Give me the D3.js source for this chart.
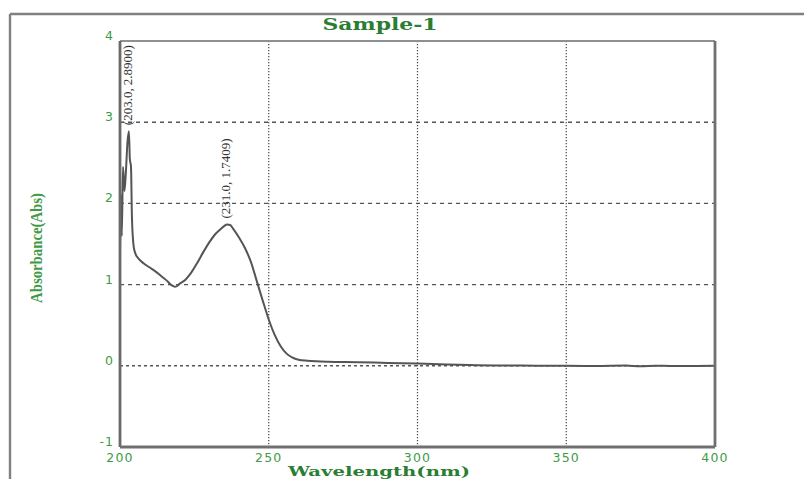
<!DOCTYPE html>
<html>
<head>
<meta charset="utf-8">
<script src="https://cdn.jsdelivr.net/npm/d3@7"></script>
<style>
  html, body { margin: 0; padding: 0; background: #fff; }
  svg { display: block; }
</style>
</head>
<body>
<svg id="chart" width="804" height="479"></svg>
<script>
// ---- data ----
const wavelengths = [200.0, 200.3, 200.6, 201.0, 201.5, 202.0, 202.5, 203.0, 203.3, 203.7, 204.0, 204.5, 205.0, 206.0, 207.0, 208.0, 210.0, 212.0, 214.0, 216.0, 217.0, 218.0, 218.5, 219.0, 220.0, 222.0, 224.0, 226.0, 228.0, 230.0, 232.0, 234.0, 235.0, 236.0, 237.0, 238.0, 240.0, 242.0, 244.0, 246.0, 248.0, 250.0, 252.0, 254.0, 256.0, 258.0, 260.0, 263.0, 266.0, 270.0, 280.0, 290.0, 300.0, 310.0, 320.0, 330.0, 340.0, 350.0, 360.0, 370.0, 375.0, 380.0, 390.0, 400.0];
const absorbance  = [1.38, 2.10, 1.60, 2.45, 2.15, 2.40, 2.75, 2.89, 2.55, 2.45, 1.85, 1.50, 1.40, 1.33, 1.29, 1.26, 1.21, 1.16, 1.10, 1.04, 1.00, 0.98, 0.975, 0.978, 1.01, 1.06, 1.15, 1.27, 1.40, 1.52, 1.62, 1.69, 1.72, 1.74, 1.735, 1.69, 1.58, 1.45, 1.28, 1.04, 0.80, 0.57, 0.38, 0.24, 0.15, 0.10, 0.075, 0.062, 0.055, 0.05, 0.045, 0.035, 0.028, 0.015, 0.008, 0.004, 0.002, 0.0, -0.002, 0.003, -0.005, 0.0, -0.002, 0.0];
const xTicks = [200, 250, 300, 350, 400];
const yTicks = [-1, 0, 1, 2, 3, 4];
const peakWavelengths = [203.0, 236.0];
const peakValues = [2.89, 1.74];
const peakLabels = ["(203.0, 2.8900)", "(231.0, 1.7409)"];
const titleText = "Sample-1";
const xLabel = "Wavelength(nm)";
const yLabel = "Absorbance(Abs)";

// ---- layout ----
const svg = d3.select("#chart");
const L = 120, R = 715, T = 41, B = 447;
const x = d3.scaleLinear().domain([200, 400]).range([L, R]);
const y = d3.scaleLinear().domain([-1, 4]).range([B, T]);
const green = "#3f9a45";
const darkGreen = "#2a7d32";

// outer frame
svg.append("line").attr("x1", 10).attr("x2", 804).attr("y1", 14).attr("y2", 14)
  .attr("stroke", "#808080").attr("stroke-width", 2.4);
svg.append("line").attr("x1", 10).attr("x2", 10).attr("y1", 14).attr("y2", 479)
  .attr("stroke", "#808080").attr("stroke-width", 2.4);

// gridlines
const grid = svg.append("g");
grid.selectAll("line.h").data(yTicks.filter(v => v > -1 && v < 4)).join("line")
  .attr("x1", L).attr("x2", R)
  .attr("y1", d => y(d)).attr("y2", d => y(d))
  .attr("stroke", "#555").attr("stroke-width", 1.4)
  .attr("stroke-dasharray", d => d === 0 ? "3,3" : "4,4");
grid.selectAll("line.v").data(xTicks.filter(v => v > 200 && v < 400)).join("line")
  .attr("x1", d => x(d)).attr("x2", d => x(d))
  .attr("y1", T).attr("y2", B)
  .attr("stroke", "#444").attr("stroke-width", 1.2)
  .attr("stroke-dasharray", "1.2,1.8");

// curve
const pts = wavelengths.map((w, i) => [w, absorbance[i]]);
const line = d3.line().x(d => x(d[0])).y(d => y(d[1])).curve(d3.curveMonotoneX);
svg.append("path").datum(pts).attr("d", line)
  .attr("fill", "none").attr("stroke", "#555").attr("stroke-width", 2)
  .attr("stroke-linejoin", "round");

// plot frame
svg.append("line").attr("x1", L).attr("x2", R).attr("y1", T).attr("y2", T)
  .attr("stroke", "#909090").attr("stroke-width", 1.8);
svg.append("line").attr("x1", R).attr("x2", R).attr("y1", T).attr("y2", B)
  .attr("stroke", "#707070").attr("stroke-width", 2.8);
svg.append("line").attr("x1", L).attr("x2", L).attr("y1", T).attr("y2", B)
  .attr("stroke", "#6a6a6a").attr("stroke-width", 2.8);
svg.append("line").attr("x1", L).attr("x2", R).attr("y1", B).attr("y2", B)
  .attr("stroke", "#707070").attr("stroke-width", 2.8);

// tick labels
svg.append("g").selectAll("text").data(xTicks).join("text")
  .attr("x", d => x(d)).attr("y", 462)
  .attr("text-anchor", "middle")
  .attr("font-family", "DejaVu Sans").attr("font-size", 12.5)
  .attr("letter-spacing", 1.2)
  .attr("fill", green).text(d => d);
svg.append("g").selectAll("text").data(yTicks).join("text")
  .attr("x", 114).attr("y", d => y(d) - 1)
  .attr("text-anchor", "end")
  .attr("font-family", "DejaVu Sans").attr("font-size", 12.5)
  .attr("letter-spacing", 1)
  .attr("fill", green).text(d => d);

// peak labels
svg.append("g").selectAll("text").data(peakLabels).join("text")
  .attr("transform", (d, i) => `translate(${x(peakWavelengths[i]) + 3},${y(peakValues[i]) - 6}) rotate(-90)`)
  .attr("font-family", "Liberation Serif").attr("font-size", 13.5)
  .attr("textLength", 80).attr("lengthAdjust", "spacingAndGlyphs")
  .attr("fill", "#333").text(d => d);

// title
svg.append("text").attr("x", 380).attr("y", 30).attr("text-anchor", "middle")
  .attr("font-family", "DejaVu Serif").attr("font-weight", "bold").attr("font-size", 16)
  .attr("textLength", 115).attr("lengthAdjust", "spacingAndGlyphs")
  .attr("fill", darkGreen).text(titleText);

// x axis label
svg.append("text").attr("x", 379).attr("y", 476).attr("text-anchor", "middle")
  .attr("font-family", "DejaVu Serif").attr("font-weight", "bold").attr("font-size", 13)
  .attr("textLength", 182).attr("lengthAdjust", "spacingAndGlyphs")
  .attr("fill", darkGreen).text(xLabel);

// y axis label
svg.append("text").attr("transform", "translate(42,248) rotate(-90)")
  .attr("text-anchor", "middle")
  .attr("font-family", "Liberation Serif").attr("font-weight", "bold").attr("font-size", 16)
  .attr("textLength", 110).attr("lengthAdjust", "spacingAndGlyphs")
  .attr("fill", green).text(yLabel);
</script>
</body>
</html>
